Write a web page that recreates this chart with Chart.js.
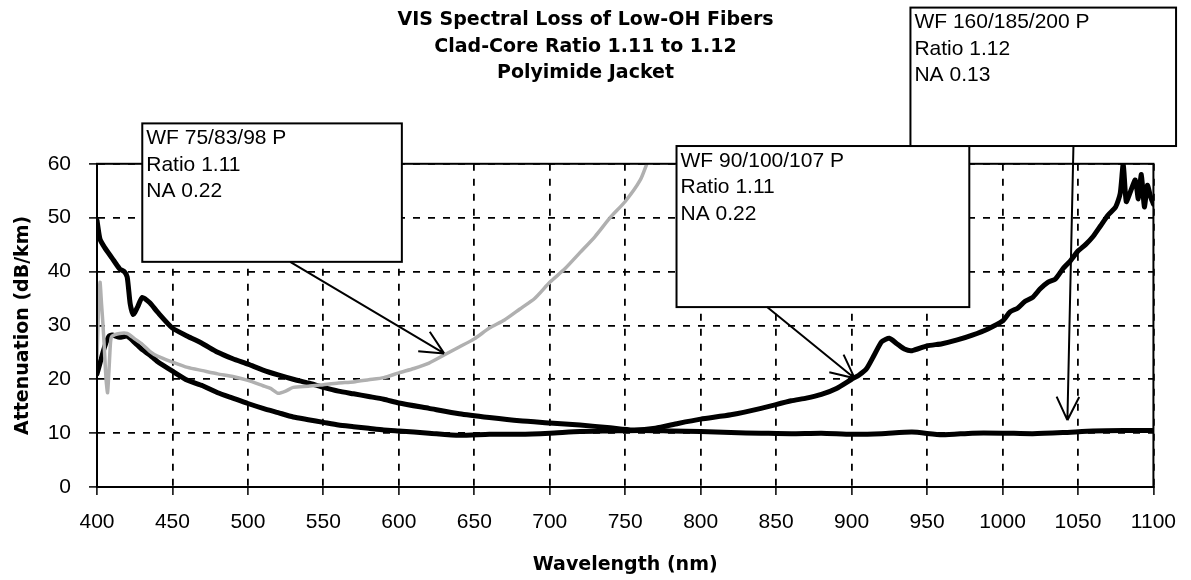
<!DOCTYPE html>
<html>
<head>
<meta charset="utf-8">
<title>VIS Spectral Loss of Low-OH Fibers</title>
<script src="https://cdn.jsdelivr.net/npm/chart.js@4/dist/chart.umd.min.js"></script>
<style>
  html, body { margin: 0; padding: 0; background: #fff; }
  #wrap { width: 1191px; height: 580px; position: relative; }
</style>
</head>
<body>
<div id="wrap"><canvas id="lossChart"></canvas></div>
<script>
// wavelength ticks (nm) and attenuation ticks (dB/km)
const xTicks = [400, 450, 500, 550, 600, 650, 700, 750, 800, 850, 900, 950, 1000, 1050, 1100];
const yTicks = [0, 10, 20, 30, 40, 50, 60];

// WF 90/100/107 P  (black, upper curve)
const wl90 = [400, 402, 405, 410, 415, 418, 420, 422, 424, 427, 430, 435, 440, 450, 460, 470, 480, 490, 500,
  510, 520, 530, 540, 550, 560, 570, 580, 590, 600, 620, 640, 660, 680, 700, 720, 740, 755, 770, 785, 800,
  820, 840, 860, 870, 880, 890, 900, 905, 910, 915, 920, 925, 930, 935, 940, 950, 960, 970, 980, 990, 1000,
  1005, 1010, 1015, 1020, 1025, 1030, 1035, 1040, 1045, 1050, 1055, 1060, 1065, 1070, 1075, 1078, 1080,
  1082, 1085, 1088, 1090, 1092, 1094, 1096, 1098, 1100];
const att90 = [49.5, 46, 44.5, 42.5, 40.5, 40, 39, 34, 32, 33.5, 35.2, 34.2, 32.5, 29.5, 28, 26.6, 25, 23.8, 22.8,
  21.7, 20.8, 20, 19.3, 18.5, 17.8, 17.3, 16.8, 16.3, 15.6, 14.6, 13.6, 12.9, 12.3, 11.9, 11.5, 11, 10.6, 10.9, 11.8, 12.6,
  13.4, 14.6, 16, 16.5, 17.2, 18.3, 20, 20.8, 22, 24.5, 27, 27.6, 26.6, 25.6, 25.3, 26.2, 26.6, 27.3, 28.2, 29.3, 30.8,
  32.5, 33.2, 34.5, 35.2, 36.8, 38, 38.6, 40.5, 42, 43.8, 45, 46.5, 48.5, 50.5, 52, 54.5, 60,
  53, 55, 57, 53.5, 58, 52, 56, 54, 52.5];

// WF 160/185/200 P  (black, lower curve)
const wl160 = [400, 402, 405, 408, 410, 415, 420, 425, 430, 435, 440, 450, 460, 470, 480, 490, 500, 510, 520, 530,
  540, 550, 560, 570, 580, 590, 600, 620, 640, 660, 680, 700, 720, 740, 760, 780, 800, 820, 840, 860, 880, 900,
  920, 940, 960, 980, 1000, 1020, 1040, 1060, 1080, 1100];
const att160 = [21, 23, 26, 28, 28.2, 27.8, 28, 26.8, 25.5, 24.5, 23.3, 21.5, 19.8, 18.8, 17.5, 16.5, 15.5, 14.6, 13.8, 13,
  12.5, 12, 11.5, 11.2, 10.9, 10.6, 10.4, 10, 9.6, 9.8, 9.8, 10, 10.3, 10.4, 10.5, 10.4, 10.3, 10.1, 10, 9.9, 10, 9.8,
  9.9, 10.2, 9.7, 10, 10, 9.9, 10.1, 10.4, 10.5, 10.5];

// WF 75/83/98 P  (grey curve)
const wl75 = [400, 401, 402, 403, 404, 405, 406, 407, 408, 409, 410, 415, 420, 425, 430, 435, 440, 450, 460, 470,
  480, 490, 500, 510, 515, 520, 525, 530, 540, 550, 560, 570, 580, 590, 600, 610, 620, 630, 640, 650, 660, 670,
  680, 690, 700, 710, 720, 730, 740, 750, 760, 765];
const att75 = [24, 33, 38, 34, 30, 25, 20, 17.5, 22, 27, 28, 28.5, 28.5, 27.5, 26.5, 25.2, 24.3, 23.2, 22.2, 21.6,
  21, 20.5, 19.8, 18.8, 18.3, 17.4, 17.8, 18.5, 18.7, 19, 19.3, 19.5, 19.9, 20.3, 21.2, 22, 23, 24.5, 26, 27.5, 29.5, 31,
  33, 35, 38, 40.5, 43.5, 46.5, 50, 53, 57, 60.5];

const toPoints = (xs, ys) => xs.map((x, i) => ({x, y: ys[i]}));

// callout boxes: corners and arrow in data units (nm, dB/km)
const notes = [
  {lines: ['WF 75/83/98 P', 'Ratio 1.11', 'NA 0.22'], box: [430, 67.5, 602, 41.8], arrow: [528, 41.8, 630, 24.8]},
  {lines: ['WF 90/100/107 P', 'Ratio 1.11', 'NA 0.22'], box: [784, 63.3, 978, 33.4], arrow: [844, 33.4, 902, 20.2]},
  {lines: ['WF 160/185/200 P', 'Ratio 1.12', 'NA 0.13'], box: [939, 89, 1115, 63.3], arrow: [1047, 63.3, 1043, 12.4]}
];

const FONT = 'Liberation Sans, Arial, Helvetica, sans-serif';
const HEAVY = 'DejaVu Sans, Liberation Sans, Arial, sans-serif';

const calloutPlugin = {
  id: 'callouts',
  afterDraw(chart) {
    const {ctx, chartArea, scales: {x, y}} = chart;
    ctx.save();
    // solid frame round the plot
    ctx.strokeStyle = '#000';
    ctx.lineWidth = 2;
    ctx.strokeRect(chartArea.left, chartArea.top, chartArea.right - chartArea.left, chartArea.bottom - chartArea.top);

    notes.forEach(n => {
      const l = x.getPixelForValue(n.box[0]), t = y.getPixelForValue(n.box[1]);
      const r = x.getPixelForValue(n.box[2]), b = y.getPixelForValue(n.box[3]);
      ctx.fillStyle = '#fff';
      ctx.fillRect(l, t, r - l, b - t);
      ctx.lineWidth = 2;
      ctx.strokeStyle = '#000';
      ctx.strokeRect(l, t, r - l, b - t);
      ctx.fillStyle = '#000';
      ctx.font = '21px ' + FONT;
      ctx.textBaseline = 'middle';
      n.lines.forEach((s, i) => ctx.fillText(s, l + 4, t + 15 + i * 26.5));

      // arrow with open head
      const x1 = x.getPixelForValue(n.arrow[0]), y1 = y.getPixelForValue(n.arrow[1]);
      const x2 = x.getPixelForValue(n.arrow[2]), y2 = y.getPixelForValue(n.arrow[3]);
      const a = Math.atan2(y2 - y1, x2 - x1);
      ctx.lineWidth = 2;
      ctx.beginPath();
      ctx.moveTo(x1, y1);
      ctx.lineTo(x2, y2);
      [0.45, -0.45].forEach(d => {
        ctx.moveTo(x2, y2);
        ctx.lineTo(x2 - 26 * Math.cos(a + d), y2 - 26 * Math.sin(a + d));
      });
      ctx.stroke();
    });
    ctx.restore();
  }
};

const lineStyle = {pointRadius: 0, tension: 0.2, fill: false, borderJoinStyle: 'round', borderCapStyle: 'round'};

new Chart(document.getElementById('lossChart'), {
  type: 'line',
  data: {
    datasets: [
      {label: 'WF 75/83/98 P', data: toPoints(wl75, att75), borderColor: '#b0b0b0', borderWidth: 3.5, ...lineStyle},
      {label: 'WF 160/185/200 P', data: toPoints(wl160, att160), borderColor: '#000', borderWidth: 5, ...lineStyle},
      {label: 'WF 90/100/107 P', data: toPoints(wl90, att90), borderColor: '#000', borderWidth: 5, ...lineStyle}
    ]
  },
  options: {
    responsive: true,
    maintainAspectRatio: false,
    animation: false,
    layout: {padding: {left: 0, right: 20, top: 0, bottom: 0}},
    plugins: {
      legend: {display: false},
      tooltip: {enabled: false},
      title: {
        display: true,
        text: ['VIS Spectral Loss of Low-OH Fibers', 'Clad-Core Ratio 1.11 to 1.12', 'Polyimide Jacket'],
        color: '#000',
        font: {family: HEAVY, size: 19, weight: 'bold', lineHeight: 1.4},
        padding: {top: 7, bottom: 77}
      }
    },
    scales: {
      x: {
        type: 'linear',
        min: xTicks[0],
        max: xTicks[xTicks.length - 1],
        afterBuildTicks: s => { s.ticks = xTicks.map(v => ({value: v})); },
        afterFit: s => { s.height = 93; },
        ticks: {color: '#000', font: {family: FONT, size: 21}, padding: 15, maxRotation: 0, autoSkip: false,
          callback: v => String(v)},
        grid: {color: '#000', lineWidth: 1.8, tickLength: 8, tickColor: '#000', tickWidth: 1.5},
        border: {display: true, color: '#000', width: 2, dash: [7, 8]},
        title: {display: true, text: 'Wavelength (nm)', color: '#000', font: {family: HEAVY, size: 19, weight: 'bold'}, padding: {top: 4, bottom: 4}}
      },
      y: {
        min: yTicks[0],
        max: yTicks[yTicks.length - 1],
        afterBuildTicks: s => { s.ticks = yTicks.map(v => ({value: v})); },
        afterFit: s => { s.width = 97; },
        ticks: {color: '#000', font: {family: FONT, size: 21}, padding: 18, callback: v => String(v)},
        grid: {color: '#000', lineWidth: 1.8, tickLength: 8, tickColor: '#000', tickWidth: 1.5},
        border: {display: true, color: '#000', width: 2, dash: [7, 8]},
        title: {display: true, text: 'Attenuation (dB/km)', color: '#000', font: {family: HEAVY, size: 19, weight: 'bold'}, padding: {top: 12, bottom: 4}}
      }
    }
  },
  plugins: [calloutPlugin]
});
</script>
</body>
</html>
